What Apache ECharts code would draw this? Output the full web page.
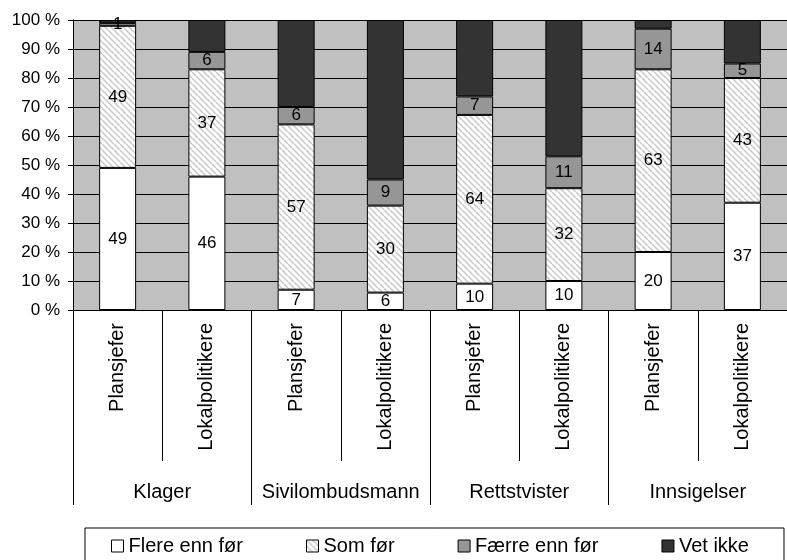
<!DOCTYPE html>
<html>
<head>
<meta charset="utf-8">
<script src="https://cdn.jsdelivr.net/npm/echarts@6/dist/echarts.min.js"></script>
<style>
  html, body { margin: 0; padding: 0; background: #fff; }
  #chart { width: 787px; height: 560px; }
</style>
</head>
<body>
<div id="chart"></div>
<script>
// Respondent groups (inner axis) and case types (outer axis)
const respondents = ['Plansjefer', 'Lokalpolitikere', 'Plansjefer', 'Lokalpolitikere',
                     'Plansjefer', 'Lokalpolitikere', 'Plansjefer', 'Lokalpolitikere'];
const caseTypes = ['Klager', 'Sivilombudsmann', 'Rettstvister', 'Innsigelser'];
const yTicks = ['0 %', '10 %', '20 %', '30 %', '40 %', '50 %', '60 %', '70 %', '80 %', '90 %', '100 %'];

// Answers per bar
const flereEnnFor = [49, 46, 7, 6, 10, 10, 20, 37];
const somFor      = [49, 37, 57, 30, 64, 32, 63, 43];
const faerreEnnFor = [1, 6, 6, 9, 7, 11, 14, 5];
const vetIkke     = [1, 11, 30, 55, 29, 47, 3, 15];

const seriesNames = ['Flere enn før', 'Som før', 'Færre enn før', 'Vet ikke'];

// Each bar is stacked to 100 % of its own total
const totals = flereEnnFor.map((v, i) => v + somFor[i] + faerreEnnFor[i] + vetIkke[i]);
const share = arr => arr.map((v, i) => ({ value: v / totals[i] * 100, raw: v }));

// Light diagonal hatching for "Som før"
function hatch() {
  const c = document.createElement('canvas');
  c.width = 6; c.height = 6;
  const g = c.getContext('2d');
  g.fillStyle = '#ffffff';
  g.fillRect(0, 0, 6, 6);
  g.strokeStyle = '#c8c8c8';
  g.lineWidth = 1.5;
  for (const o of [-6, 0, 6]) {
    g.beginPath();
    g.moveTo(o, 0);
    g.lineTo(o + 6, 6);
    g.stroke();
  }
  return { image: c, repeat: 'repeat' };
}

const fills = ['#ffffff', hatch(), '#969696', '#333333'];
const dataSets = [flereEnnFor, somFor, faerreEnnFor, vetIkke];

const font = '"Liberation Sans", Arial, sans-serif';

const chart = echarts.init(document.getElementById('chart'), null, { renderer: 'canvas' });

chart.setOption({
  animation: false,
  textStyle: { fontFamily: font, color: '#000' },
  grid: {
    left: 73, top: 20, right: -10, bottom: 250,
    show: true, backgroundColor: '#c0c0c0', borderWidth: 0
  },
  legend: {
    data: seriesNames,
    left: 85, top: 528,
    padding: [8, 35, 20, 26],
    itemGap: 63,
    itemWidth: 12, itemHeight: 12,
    icon: 'rect',
    borderColor: '#000', borderWidth: 1,
    itemStyle: { borderColor: '#000', borderWidth: 1 },
    textStyle: { fontSize: 20, fontFamily: font, color: '#000' }
  },
  xAxis: [
    {
      type: 'category',
      data: respondents,
      position: 'bottom',
      axisLine: { show: true, lineStyle: { color: '#000', width: 1 } },
      axisTick: { show: true, interval: 0, length: 151, lineStyle: { color: '#000' } },
      axisLabel: { interval: 0, rotate: 90, margin: 13, fontSize: 20, color: '#000', fontFamily: font }
    },
    {
      type: 'category',
      data: caseTypes,
      position: 'bottom',
      axisLine: { show: false },
      axisTick: { show: true, interval: 0, length: 195, lineStyle: { color: '#000' } },
      axisLabel: { interval: 0, margin: 172, fontSize: 20, color: '#000', fontFamily: font }
    }
  ],
  yAxis: {
    type: 'value',
    min: 0, max: 100, interval: 10,
    axisLine: { show: true, lineStyle: { color: '#000' } },
    axisTick: { show: true, length: 5, lineStyle: { color: '#000' } },
    splitLine: { show: true, lineStyle: { color: '#000', width: 1 } },
    axisLabel: {
      margin: 13, fontSize: 17, color: '#000', fontFamily: font,
      formatter: v => yTicks[Math.round(v / 10)]
    }
  },
  series: seriesNames.map((name, k) => ({
    name,
    type: 'bar',
    stack: 'share',
    xAxisIndex: 0,
    barWidth: 37,
    data: share(dataSets[k]),
    itemStyle: { color: fills[k], borderColor: '#000', borderWidth: 1 },
    label: {
      show: k < 3,
      position: 'inside',
      fontSize: 17,
      color: '#000',
      fontFamily: font,
      formatter: p => String(p.data.raw)
    }
  }))
});
</script>
</body>
</html>
